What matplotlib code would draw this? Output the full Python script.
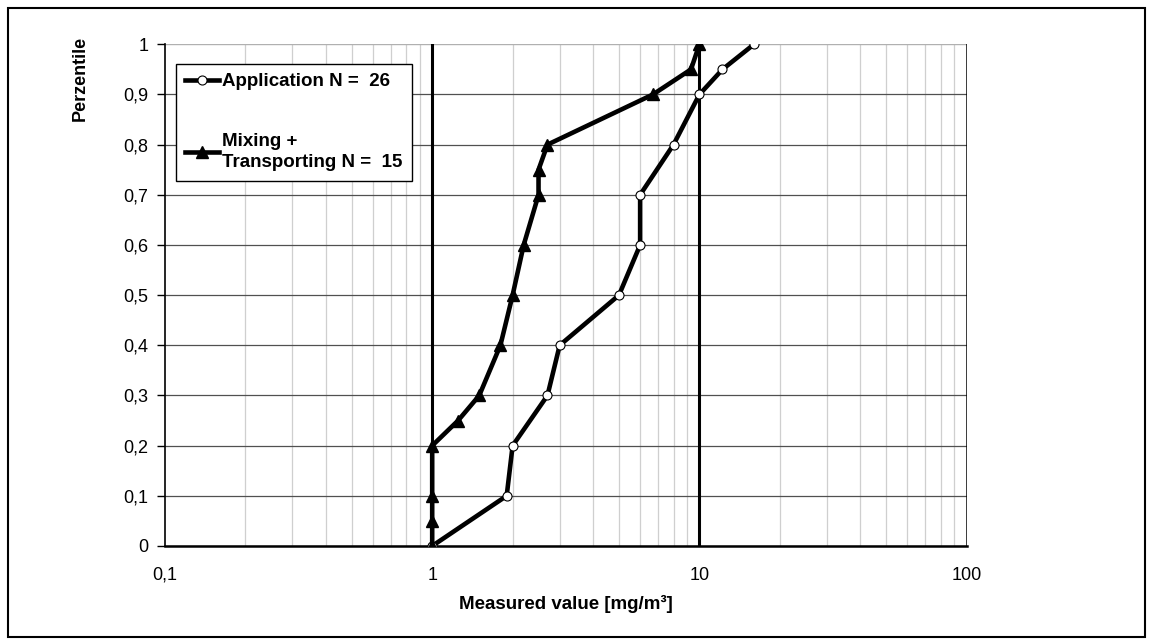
import matplotlib
matplotlib.use('Agg')
import matplotlib.pyplot as plt
from matplotlib.patches import Rectangle
from matplotlib.ticker import FixedLocator, FuncFormatter, LogLocator, NullFormatter

plt.rcParams['font.family'] = ['Liberation Sans', 'DejaVu Sans']

# Data
app_x = [1.0, 1.9, 2.0, 2.7, 3.0, 5.0, 6.0, 6.0, 8.0, 10.0, 12.2, 16.0]
app_y = [0.0, 0.1, 0.2, 0.3, 0.4, 0.5, 0.6, 0.7, 0.8, 0.9, 0.95, 1.0]
mix_x = [1.0, 1.0, 1.0, 1.0, 1.25, 1.5, 1.8, 2.0, 2.2, 2.5, 2.5, 2.7, 6.7, 9.3, 10.0]
mix_y = [0.0, 0.05, 0.1, 0.2, 0.25, 0.3, 0.4, 0.5, 0.6, 0.7, 0.75, 0.8, 0.9, 0.95, 1.0]

app_label = 'Application N =  26'
mix_label = 'Mixing +\nTransporting N =  15'

x_ticks = [0.1, 1, 10, 100]
x_tick_labels = ['0,1', '1', '10', '100']
y_ticks = [i / 10 for i in range(11)]

fig = plt.figure(figsize=(11.52, 6.44), dpi=100)
ax = fig.add_axes([0.1432, 0.1522, 0.6959, 0.7790])

# outer frame of the picture
fig.patches.append(Rectangle((8 / 1152, 7 / 644), 1137 / 1152, 629 / 644,
                             transform=fig.transFigure, fill=False,
                             edgecolor='black', linewidth=1.5))

ax.set_xscale('log')
ax.set_xlim(0.1, 100)
ax.set_ylim(0, 1)

# grid: light minor verticals, dark horizontals, bold decades
ax.xaxis.set_minor_locator(LogLocator(base=10, subs=range(2, 10)))
ax.xaxis.set_minor_formatter(NullFormatter())
ax.grid(True, which='minor', axis='x', color='#cfcfcf', linewidth=0.9, zorder=1)
ax.grid(False, which='major', axis='x')
for yv in y_ticks[:-1]:
    ax.axhline(yv, color='#505050', linewidth=0.9, zorder=2)
ax.axhline(1.0, color='#b0b0b0', linewidth=1.0, zorder=2)
for xv in [1, 10]:
    ax.axvline(xv, color='black', linewidth=2.2, zorder=3)
ax.axvline(100, color='black', linewidth=1.8, zorder=3)

ax.plot(app_x, app_y, color='black', linewidth=3.3, marker='o', markersize=6.5,
        markerfacecolor='white', markeredgecolor='black', markeredgewidth=0.8,
        label=app_label, zorder=4)
ax.plot(mix_x, mix_y, color='black', linewidth=3.3, marker='^', markersize=8,
        markerfacecolor='black', markeredgecolor='black',
        label=mix_label, zorder=5)

ax.xaxis.set_major_locator(FixedLocator(x_ticks))
ax.set_xticklabels(x_tick_labels)
ax.set_yticks(y_ticks)
ax.yaxis.set_major_formatter(FuncFormatter(lambda v, p: ('%g' % round(v, 1)).replace('.', ',')))
ax.tick_params(axis='x', which='both', length=0, pad=15, labelsize=13)
ax.tick_params(axis='y', length=6, width=1, pad=6, labelsize=13, direction='out')

for side in ['top', 'right']:
    ax.spines[side].set_visible(False)
ax.spines['left'].set_linewidth(1.2)
ax.spines['bottom'].set_linewidth(1.8)

ax.set_xlabel('Measured value [mg/m³]', fontsize=13.5, fontweight='bold', labelpad=8)
ax.set_ylabel('Perzentile', fontsize=13, fontweight='bold')
ax.yaxis.set_label_coords(-0.0948, 0.931)

leg = ax.legend(loc='upper left', bbox_to_anchor=(0.0137, 0.961), frameon=True,
                fancybox=False, edgecolor='black', framealpha=1,
                prop={'weight': 'bold', 'size': 13.5}, handlelength=1.8,
                handletextpad=0.15, labelspacing=2.3, borderpad=0.5,
                borderaxespad=0)
leg.get_frame().set_linewidth(1.0)
for t in leg.get_texts():
    t.set_linespacing(1.3)
leg.set_zorder(10)

fig.savefig('out.png', dpi=100)
